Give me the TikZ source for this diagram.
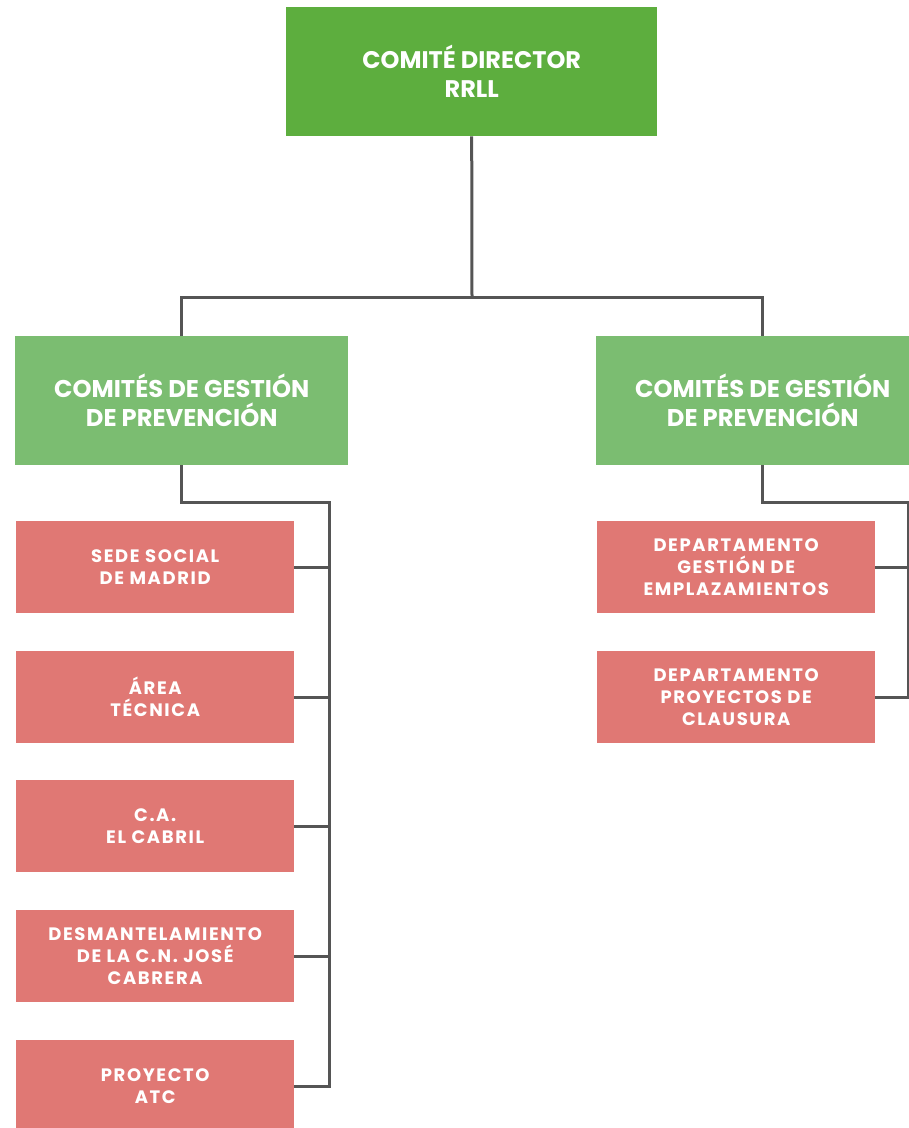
\documentclass[tikz,border=0pt]{standalone}
\usepackage{fontspec}
\setmainfont{Poppins}
\begin{document}
\begin{tikzpicture}[x=1pt,y=-1pt,
  conn/.style={draw=linegray,line width=3pt},
  topbox/.style={fill=topgreen,minimum width=371pt,minimum height=129pt,anchor=north west,inner sep=0pt,text=white,font=\fontsize{24}{29}\selectfont\bfseries,align=center},
  midbox/.style={fill=midgreen,minimum width=333pt,minimum height=129pt,anchor=north west,inner sep=0pt,text=white,font=\fontsize{24.2}{29}\selectfont\bfseries,align=center},
  leaf/.style={fill=leafred,minimum width=278pt,minimum height=92pt,anchor=north west,inner sep=0pt,text=white,font=\fontsize{18}{22}\selectfont\bfseries\addfontfeatures{LetterSpace=9},align=center}]
\definecolor{topgreen}{HTML}{5DAE3E}
\definecolor{midgreen}{HTML}{7BBD71}
\definecolor{leafred}{HTML}{E07874}
\definecolor{linegray}{HTML}{555555}
\useasboundingbox (0,0) rectangle (909,1128);
\node[topbox] (top) at (286,7) {COMITÉ DIRECTOR\\RRLL};
\node[midbox] (gl) at (15,336) {COMITÉS DE GESTIÓN\\DE PREVENCIÓN};
\node[midbox] (gr) at (596,336) {COMITÉS DE GESTIÓN\\DE PREVENCIÓN};
\node[leaf] (l1) at (16,521) {SEDE SOCIAL\\DE MADRID};
\node[leaf] (l2) at (16,651) {ÁREA\\TÉCNICA};
\node[leaf] (l3) at (16,780) {C.A.\\EL CABRIL};
\node[leaf] (l4) at (16,910) {DESMANTELAMIENTO\\DE LA C.N. JOSÉ\\CABRERA};
\node[leaf] (l5) at (16,1040) {PROYECTO\\ATC};
\node[leaf] (r1) at (597,521) {DEPARTAMENTO\\GESTIÓN DE\\EMPLAZAMIENTOS};
\node[leaf] (r2) at (597,651) {DEPARTAMENTO\\PROYECTOS DE\\CLAUSURA};
\coordinate (hub) at (472,297);
\coordinate (lb) at (329,502);
\coordinate (rb) at (908,502);
\draw[conn] (top.south) -- (hub);
\draw[conn] (gl.north) |- (hub) -| (gr.north);
\draw[conn] (gl.south) |- (lb) -- (lb |- l5.east) -- (l5.east);
\foreach \n in {l1,l2,l3,l4} \draw[conn] (\n.east) -- (lb |- \n.east);
\draw[conn] (gr.south) |- (rb) -- (rb |- r2.east) -- (r2.east);
\draw[conn] (r1.east) -- (rb |- r1.east);
\end{tikzpicture}
\end{document}
